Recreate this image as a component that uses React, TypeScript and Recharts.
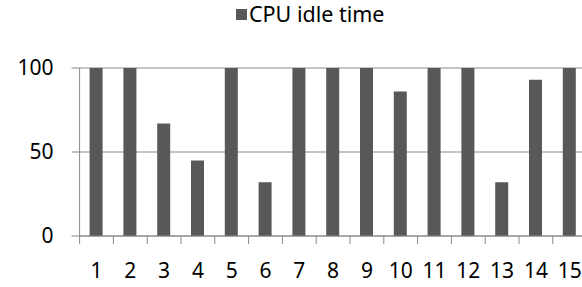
import { BarChart, Bar, XAxis, YAxis, CartesianGrid, Legend } from 'recharts';

const categories = ['1', '2', '3', '4', '5', '6', '7', '8', '9', '10', '11', '12', '13', '14', '15'];
const idleTime = [100, 100, 67, 45, 100, 32, 100, 100, 100, 86, 100, 100, 32, 93, 100];
const yTicks = [0, 50, 100];
const seriesName = 'CPU idle time';

const data = categories.map((c, i) => ({ name: c, idle: idleTime[i] }));

const W = 600;
const H = 287;
const PLOT_LEFT = 71.6;
const PLOT_RIGHT = 578.6;
const BAND = (PLOT_RIGHT - PLOT_LEFT) / categories.length;
const TICK_SIZE = 8;
const TICK_MARGIN = 19;
const GRAY = '#898989';
const BAR = '#585858';
const FONT = '"Noto Sans", sans-serif';

// label plus tick marks on category borders, like excel
const CatTick = (props: any) => {
  const { x, y, payload, index } = props;
  const y0 = y - TICK_SIZE - TICK_MARGIN;
  return (
    <g>
      <line x1={x - BAND / 2} x2={x - BAND / 2} y1={y0} y2={y0 + TICK_SIZE} stroke={GRAY} />
      {index === categories.length - 1 && (
        <line x1={x + BAND / 2} x2={x + BAND / 2} y1={y0} y2={y0 + TICK_SIZE} stroke={GRAY} />
      )}
      <text x={x} y={y} dy="0.71em" textAnchor="middle" fill="#000" fontSize={21} fontFamily={FONT}>
        {payload.value}
      </text>
    </g>
  );
};

const LegendBox = () => (
  <div style={{ height: 68, position: 'relative', fontFamily: FONT }}>
    <div style={{ position: 'absolute', left: 228, top: 0, display: 'flex', alignItems: 'center', height: 28 }}>
      <span style={{ width: 11, height: 11, background: BAR, display: 'inline-block', marginRight: 2 }} />
      <span style={{ fontSize: 21.5, color: '#000', lineHeight: '28px' }}>{seriesName}</span>
    </div>
  </div>
);

export default function App() {
  return (
    <div style={{ position: 'absolute', left: 8, top: 0, width: 574, height: H, overflow: 'hidden' }}>
      <BarChart width={W} height={H} data={data} margin={{ top: 0, right: W - PLOT_RIGHT, bottom: 0, left: 0 }}>
        <Legend verticalAlign="top" content={<LegendBox />} wrapperStyle={{ left: 0, top: 0, width: W }} />
        <CartesianGrid vertical={false} stroke={GRAY} />
        <XAxis
          dataKey="name"
          height={51}
          interval={0}
          tickLine={false}
          tickSize={TICK_SIZE}
          tickMargin={TICK_MARGIN}
          axisLine={{ stroke: GRAY }}
          tick={<CatTick />}
        />
        <YAxis
          width={PLOT_LEFT}
          domain={[0, 100]}
          ticks={yTicks}
          interval={0}
          tickSize={TICK_SIZE}
          tickMargin={18}
          tickLine={{ stroke: GRAY }}
          axisLine={{ stroke: GRAY }}
          tick={{ fill: '#000', fontSize: 21, fontFamily: FONT }}
        />
        <Bar dataKey="idle" name={seriesName} fill={BAR} barSize={13} isAnimationActive={false} />
      </BarChart>
    </div>
  );
}
